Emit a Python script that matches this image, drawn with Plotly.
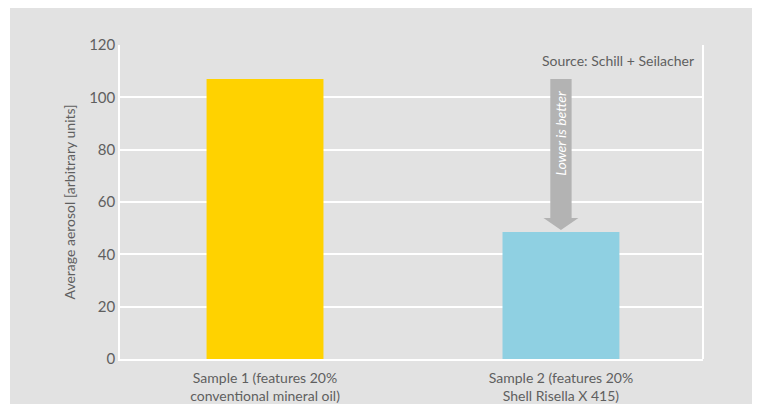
import plotly.graph_objects as go

categories = ["Sample 1 (features 20%<br>conventional mineral oil)",
              "Sample 2 (features 20%<br>Shell Risella X 415)"]
values = [107, 48.5]
bar_colors = ["#FFD200", "#8FD0E2"]
y_ticks = [0, 20, 40, 60, 80, 100, 120]

# page has an 8px body margin; size figure to fit the 760x404 window
W, H = 752, 396
L, R, T, B = 112, 57, 37, 45
pw, ph = W - L - R, H - T - B
FONT = "Lato"

fig = go.Figure(go.Bar(x=[0, 1], y=values, marker_color=bar_colors,
                       marker_line_width=0, width=0.395))

# thin white strip at the left edge
fig.add_shape(type="rect", xref="paper", yref="paper", layer="below",
              x0=-L / pw - 0.01, x1=(2 - L) / pw,
              y0=-B / ph - 0.02, y1=(H - B) / ph + 0.02,
              fillcolor="white", line_width=0)

# arrow "Lower is better"
ax = 1.0
top = values[0]
tip = values[1] + 0.8
headbase = values[1] + 5.4
sw = 0.036
hw = 0.059
fig.add_shape(type="path", xref="x", yref="y", layer="above",
              path=(f"M {ax-sw},{top} L {ax+sw},{top} L {ax+sw},{headbase} "
                    f"L {ax+hw},{headbase} L {ax},{tip} L {ax-hw},{headbase} "
                    f"L {ax-sw},{headbase} Z"),
              fillcolor="#b3b3b3", line_width=0)
fig.add_annotation(x=ax, y=(top + headbase) / 2 + 6, xref="x", yref="y",
                   text="<i>Lower is better</i>", textangle=-90, showarrow=False,
                   font=dict(family=FONT, size=14, color="white"))
fig.add_annotation(x=1, y=1, xref="paper", yref="paper", xanchor="right",
                   yanchor="top", xshift=-7, yshift=-5,
                   text="Source: Schill + Seilacher", showarrow=False,
                   font=dict(family=FONT, size=14, color="#5f5f5f"))

fig.update_layout(
    width=W, height=H,
    margin=dict(l=L, r=R, t=T, b=B, autoexpand=False),
    paper_bgcolor="#e2e2e2", plot_bgcolor="#e2e2e2",
    showlegend=False,
    font=dict(family=FONT, color="#5f5f5f"),
    xaxis=dict(range=[-0.49, 1.48], tickvals=[0, 1], ticktext=categories,
               showgrid=False, zeroline=False, showline=True, linecolor="white",
               linewidth=2, mirror=False, ticks="", tickfont=dict(size=14),
               ticklabelstandoff=5, automargin=False),
    yaxis=dict(range=[0, 120], tickvals=y_ticks, showgrid=True, gridcolor="white",
               gridwidth=1.5, zeroline=False, showline=True, linecolor="white",
               linewidth=1.5, ticks="", tickfont=dict(size=15), ticklen=0,
               automargin=False,
               title=dict(text="Average aerosol [arbitrary units]",
                          font=dict(size=14), standoff=10)),
)
# right frame line
fig.add_shape(type="line", xref="paper", yref="paper", x0=1, x1=1, y0=0, y1=1,
              line=dict(color="white", width=2))

fig.write_html("out.html")
